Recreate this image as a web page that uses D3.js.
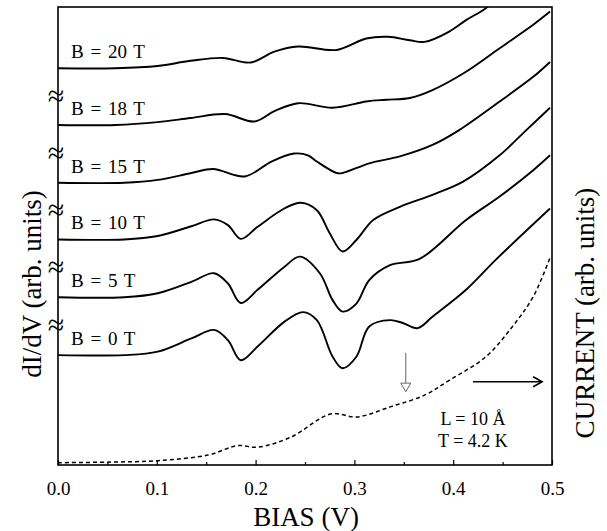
<!DOCTYPE html>
<html>
<head>
<meta charset="utf-8">
<script src="https://cdn.jsdelivr.net/npm/d3@7"></script>
<style>
  body { margin: 0; background: #fff; }
  svg text { font-family: "Liberation Serif", "Times New Roman", serif; fill: #000; }
</style>
</head>
<body>
<div class="content"></div>
<script>
// dI/dV curves, offset by one unit each (arb. units)
var fields = ["B = 0 T", "B = 5 T", "B = 10 T", "B = 15 T", "B = 18 T", "B = 20 T"];
var baselines = [1.92, 2.93, 3.94, 4.93, 5.94, 6.93];

var b0 = [[0,1.92],[0.067,1.92],[0.101,1.98],[0.135,2.21],[0.158,2.36],[0.172,2.18],[0.185,1.83],
          [0.202,2.07],[0.229,2.50],[0.248,2.67],[0.262,2.53],[0.278,1.89],[0.288,1.69],[0.302,1.89],
          [0.315,2.42],[0.336,2.53],[0.349,2.48],[0.364,2.39],[0.379,2.59],[0.413,3.06],[0.444,3.60],
          [0.498,4.48]];
var b5 = [[0,2.93],[0.067,2.93],[0.101,3.00],[0.135,3.20],[0.158,3.35],[0.172,3.17],[0.185,2.83],
          [0.202,3.06],[0.229,3.46],[0.245,3.64],[0.265,3.35],[0.278,2.88],[0.288,2.68],[0.302,2.82],
          [0.315,3.23],[0.336,3.49],[0.366,3.60],[0.413,4.28],[0.447,4.69],[0.481,5.15],[0.498,5.41]];
var b10 = [[0,3.94],[0.067,3.94],[0.101,4.00],[0.135,4.17],[0.158,4.29],[0.172,4.19],[0.185,3.95],
           [0.202,4.16],[0.229,4.48],[0.246,4.58],[0.262,4.45],[0.275,4.05],[0.288,3.73],[0.302,3.93],
           [0.319,4.28],[0.346,4.51],[0.379,4.72],[0.410,4.95],[0.447,5.41],[0.474,5.85],[0.498,6.24]];
var b15 = [[0,4.93],[0.067,4.93],[0.101,4.98],[0.135,5.10],[0.157,5.17],[0.189,5.04],[0.216,5.30],
           [0.239,5.44],[0.253,5.41],[0.262,5.30],[0.282,5.10],[0.288,5.10],[0.315,5.27],[0.346,5.39],
           [0.379,5.59],[0.406,5.85],[0.447,6.35],[0.481,6.78],[0.498,7.04]];
var b18 = [[0,5.94],[0.058,5.94],[0.101,5.99],[0.134,6.06],[0.169,6.13],[0.199,6.00],[0.219,6.18],
           [0.243,6.32],[0.278,6.24],[0.312,6.35],[0.332,6.38],[0.356,6.41],[0.379,6.55],[0.413,6.87],
           [0.447,7.28],[0.481,7.69],[0.498,7.92]];
var b20 = [[0,6.93],[0.058,6.93],[0.101,6.97],[0.134,7.06],[0.167,7.11],[0.195,7.03],[0.219,7.22],
           [0.243,7.31],[0.282,7.25],[0.312,7.45],[0.334,7.48],[0.356,7.42],[0.371,7.39],[0.396,7.57],
           [0.413,7.77],[0.433,7.98],[0.45,8.25]];
var didv = [b0, b5, b10, b15, b18, b20];

// tunnelling current (dashed)
var current = [[0,0.04],[0.05,0.05],[0.101,0.075],[0.152,0.175],[0.182,0.34],[0.202,0.31],[0.236,0.49],
               [0.276,0.89],[0.303,0.84],[0.337,1.02],[0.371,1.22],[0.396,1.48],[0.433,1.89],
               [0.460,2.42],[0.481,2.94],[0.498,3.62]];

var xTicks = [0, 0.1, 0.2, 0.3, 0.4, 0.5];
var xMinor = [0.05, 0.15, 0.25, 0.35, 0.45];

var svg = d3.select(".content")
  .append("svg")
  .attr("width", 607)
  .attr("height", 531)

var x = d3.scaleLinear().domain([0, 0.5]).range([58, 552]);
var y = d3.scaleLinear().domain([0, 8]).range([465, 7]);

svg.append("clipPath").attr("id", "plot")
  .append("rect")
  .attr("x", 58).attr("y", 7).attr("width", 494).attr("height", 458)

var line = d3.line()
  .x(function(d) { return x(d[0]); })
  .y(function(d) { return y(d[1]); })
  .curve(d3.curveCatmullRom.alpha(0.5));

var g = svg.append("g").attr("clip-path", "url(#plot)");

g.selectAll("path.didv")
  .data(didv)
  .enter()
  .append("path")
  .attr("class", "didv")
  .attr("d", line)
  .attr("fill", "none")
  .attr("stroke", "#000")
  .attr("stroke-width", 1.9)

g.append("path")
  .attr("d", line(current))
  .attr("fill", "none")
  .attr("stroke", "#000")
  .attr("stroke-width", 1.5)
  .attr("stroke-dasharray", "4,3")

// field labels
svg.selectAll("text.field")
  .data(fields)
  .enter()
  .append("text")
  .attr("class", "field")
  .attr("x", 71)
  .attr("y", function(d, i) { return y(baselines[i]) - 10; })
  .style("font-size", "19px")
  .style("word-spacing", "2px")
  .text(function(d) { return d; })

// axis break marks between traces
svg.selectAll("text.brk")
  .data(baselines.slice(0, 5))
  .enter()
  .append("text")
  .attr("class", "brk")
  .attr("x", 56)
  .attr("y", function(d, i) { return y((baselines[i] + baselines[i + 1]) / 2) + 9; })
  .style("font-size", "30px")
  .style("text-anchor", "middle")
  .text("≈")

// frame
svg.append("rect")
  .attr("x", 58).attr("y", 7).attr("width", 494).attr("height", 458)
  .attr("fill", "none")
  .attr("stroke", "#000")
  .attr("stroke-width", 1.6)

var ax = svg.append("g").attr("transform", "translate(0,465)")
  .call(d3.axisBottom(x).tickValues(xTicks).tickSizeInner(-5).tickSizeOuter(0)
    .tickPadding(17).tickFormat(d3.format(".1f")));
ax.select(".domain").remove();
ax.selectAll("line").attr("stroke-width", 1.2);
ax.selectAll("text").style("font-size", "19px").style("font-family", "Liberation Serif, serif");

var axm = svg.append("g").attr("transform", "translate(0,465)")
  .call(d3.axisBottom(x).tickValues(xMinor).tickSizeInner(-3).tickSizeOuter(0).tickFormat(""));
axm.select(".domain").remove();
axm.selectAll("line").attr("stroke-width", 1.2);

// annotations
var ax0 = 0.352;
svg.append("line")
  .attr("x1", x(ax0)).attr("x2", x(ax0))
  .attr("y1", y(1.96)).attr("y2", y(1.43))
  .attr("stroke", "#666").attr("stroke-width", 1)
svg.append("path")
  .attr("d", "M" + (x(ax0) - 5) + "," + y(1.43) + "L" + (x(ax0) + 5) + "," + y(1.43) +
        "L" + x(ax0) + "," + y(1.28) + "Z")
  .attr("fill", "#fff").attr("stroke", "#666").attr("stroke-width", 1)

svg.append("line")
  .attr("x1", x(0.42)).attr("x2", x(0.49))
  .attr("y1", y(1.455)).attr("y2", y(1.455))
  .attr("stroke", "#000").attr("stroke-width", 1.6)
svg.append("path")
  .attr("d", "M" + (x(0.49) - 9) + "," + (y(1.455) - 5) + "L" + x(0.49) + "," + y(1.455) +
        "L" + (x(0.49) - 9) + "," + (y(1.455) + 5))
  .attr("fill", "none").attr("stroke", "#000").attr("stroke-width", 1.6)

svg.append("text")
  .attr("x", x(0.42)).attr("y", y(0.70))
  .style("font-size", "18px").style("text-anchor", "middle")
  .text("L = 10 Å")
svg.append("text")
  .attr("x", x(0.42)).attr("y", y(0.32))
  .style("font-size", "18px").style("text-anchor", "middle")
  .text("T = 4.2 K")

// axis titles
svg.append("text")
  .attr("x", 306).attr("y", 526)
  .style("font-size", "27px").style("text-anchor", "middle")
  .text("BIAS (V)")

svg.append("text")
  .attr("transform", "translate(41,284) rotate(-90)")
  .style("font-size", "27px").style("text-anchor", "middle")
  .text("dI/dV (arb. units)")

svg.append("text")
  .attr("transform", "translate(594,313) rotate(-90)")
  .style("font-size", "27px").style("text-anchor", "middle")
  .text("CURRENT (arb. units)")
</script>
</body>
</html>
